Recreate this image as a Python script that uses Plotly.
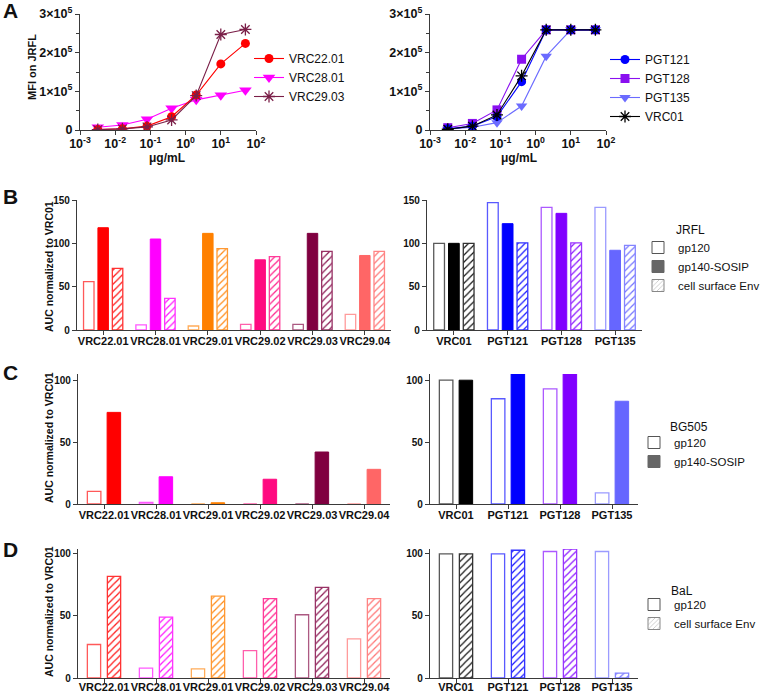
import plotly.graph_objects as go

W, H = 760, 693

# ---------------- data ----------------
conc = [50, 10, 2, 0.4, 0.08, 0.016, 0.0032]
mfi_vrc22_01 = [224000, 171000, 90500, 34500, 10000, 3000, 1000]
mfi_vrc28_01 = [103000, 90000, 78000, 56000, 28000, 13000, 7000]
mfi_vrc29_03 = [260000, 247000, 89000, 26000, 8000, 3000, 1000]
mfi_pgt121 = [259000, 259000, 259000, 125000, 34500, 10000, 3000]
mfi_pgt128 = [259000, 259000, 259000, 183000, 52000, 17000, 6000]
mfi_pgt135 = [259000, 259000, 191000, 62000, 19000, 7000, 2000]
mfi_vrc01 = [259000, 259000, 259000, 140000, 39000, 10000, 2000]

cats_new = ["VRC22.01", "VRC28.01", "VRC29.01", "VRC29.02", "VRC29.03", "VRC29.04"]
cats_ref = ["VRC01", "PGT121", "PGT128", "PGT135"]

jrfl_gp120_new = [55.8, 5.8, 4.6, 6.5, 6.5, 18]
jrfl_sosip_new = [118, 105, 111.5, 81, 111.5, 86]
jrfl_cell_new = [71, 36.5, 94, 84.6, 90.8, 90.8]
jrfl_gp120_ref = [100, 147, 141.5, 141.5]
jrfl_sosip_ref = [100, 122.7, 134.6, 92]
jrfl_cell_ref = [100, 100.5, 100.5, 97.7]

bg505_gp120_new = [10.2, 1.3, 0, 0, 0, 0]
bg505_sosip_new = [74, 22, 1, 20, 42, 28]
bg505_gp120_ref = [100, 85, 93, 9]
bg505_sosip_ref = [100, 105, 105, 83]

bal_gp120_new = [27, 8, 7.3, 22, 51, 31.5]
bal_cell_new = [82, 49, 66, 64, 73, 64]
bal_gp120_ref = [100, 100, 102, 102]
bal_cell_ref = [100, 103, 104, 4]

x_ticks_log = [1e-3, 1e-2, 1e-1, 1e0, 1e1, 1e2]
x_ticktext_log = ["10<sup>-3</sup>", "10<sup>-2</sup>", "10<sup>-1</sup>", "10<sup>0</sup>",
                  "10<sup>1</sup>", "10<sup>2</sup>"]
y_ticks_mfi = [0, 100000, 200000, 300000]
y_ticktext_mfi = ["0", "1×10<sup>5</sup>", "2×10<sup>5</sup>", "3×10<sup>5</sup>"]

# ---------------- styles ----------------
col_new = ["#FF0000", "#FF00FF", "#FF8000", "#FF0A80", "#800040", "#FF6666"]
col_ref = ["#000000", "#0000FF", "#8000FF", "#6666FF"]

FONT = "Arial, Liberation Sans, sans-serif"
AX = "#3a3a3a"


def lighten(h, t):
    h = h.lstrip("#")
    r, g, b = int(h[0:2], 16), int(h[2:4], 16), int(h[4:6], 16)
    r = int(r + (255 - r) * t)
    g = int(g + (255 - g) * t)
    b = int(b + (255 - b) * t)
    return "#%02x%02x%02x" % (r, g, b)


def px(p):
    return p / W


def py(p):
    return 1 - p / H


fig = go.Figure()

# ---------------- panel A ----------------
lineA = [
    ("VRC28.01", mfi_vrc28_01, "#FF00FF", "triangle-down", 11, "x", "y", "legend"),
    ("VRC22.01", mfi_vrc22_01, "#FF0000", "circle", 9, "x", "y", "legend"),
    ("VRC29.03", mfi_vrc29_03, "#7A1F48", "asterisk-open", 10, "x", "y", "legend"),
    ("PGT135", mfi_pgt135, "#6B6BFF", "triangle-down", 10, "x2", "y2", "legend2"),
    ("PGT128", mfi_pgt128, "#8A10F0", "square", 9, "x2", "y2", "legend2"),
    ("PGT121", mfi_pgt121, "#0000FF", "circle", 9, "x2", "y2", "legend2"),
    ("VRC01", mfi_vrc01, "#000000", "asterisk-open", 10, "x2", "y2", "legend2"),
]
rank = {"VRC22.01": 1, "VRC28.01": 2, "VRC29.03": 3, "PGT121": 1, "PGT128": 2, "PGT135": 3, "VRC01": 4}
for name, vals, c, sym, sz, xa, ya, lg in lineA:
    fig.add_trace(go.Scatter(
        x=conc, y=vals, name=name, mode="lines+markers",
        line=dict(color=c, width=1.1),
        marker=dict(symbol=sym, size=sz, color=c, line=dict(color=c, width=1.3 if "asterisk" in sym else 0)),
        xaxis=xa, yaxis=ya, legend=lg, legendrank=rank[name],
    ))


# ---------------- bar panels ----------------
def add_bars(cats, vals, colors, kind, width, offset, xa, ya):
    if kind == "open":
        marker = dict(color="white", line=dict(color=[lighten(c, 0.35) for c in colors], width=1.3))
    elif kind == "solid":
        marker = dict(color=colors, line=dict(color=colors, width=1))
    else:
        marker = dict(color="white", line=dict(color=[lighten(c, 0.2) for c in colors], width=1.3),
                      pattern=dict(shape="/", fgcolor=[lighten(c, 0.1) for c in colors], bgcolor="white",
                                   size=5, solidity=0.25, fillmode="replace"))
    fig.add_trace(go.Bar(x=cats, y=vals, width=width, offset=offset, marker=marker,
                         xaxis=xa, yaxis=ya, showlegend=False, hoverinfo="x+y"))


# B (3 bars)
for cats, cols, xa, ya, g, s, c in [
    (cats_new, col_new, "x3", "y3", jrfl_gp120_new, jrfl_sosip_new, jrfl_cell_new),
    (cats_ref, col_ref, "x4", "y4", jrfl_gp120_ref, jrfl_sosip_ref, jrfl_cell_ref),
]:
    add_bars(cats, g, cols, "open", 0.2, -0.375, xa, ya)
    add_bars(cats, s, cols, "solid", 0.2, -0.1, xa, ya)
    add_bars(cats, c, cols, "hatch", 0.2, 0.175, xa, ya)

# C (2 bars)
for cats, cols, xa, ya, g, s in [
    (cats_new, col_new, "x5", "y5", bg505_gp120_new, bg505_sosip_new),
    (cats_ref, col_ref, "x6", "y6", bg505_gp120_ref, bg505_sosip_ref),
]:
    add_bars(cats, g, cols, "open", 0.26, -0.32, xa, ya)
    add_bars(cats, s, cols, "solid", 0.26, 0.06, xa, ya)

# D (2 bars)
for cats, cols, xa, ya, g, c in [
    (cats_new, col_new, "x7", "y7", bal_gp120_new, bal_cell_new),
    (cats_ref, col_ref, "x8", "y8", bal_gp120_ref, bal_cell_ref),
]:
    add_bars(cats, g, cols, "open", 0.255, -0.32, xa, ya)
    add_bars(cats, c, cols, "hatch", 0.255, 0.065, xa, ya)

# legend dummy entries for bar panels
GRAY = "#666666"
for lg, items in [("legend3", ["open", "solid", "hatch"]), ("legend4", ["open", "solid"]),
                  ("legend5", ["open", "hatch"])]:
    for k in items:
        nm = {"open": "gp120", "solid": "gp140-SOSIP", "hatch": "cell surface Env"}[k]
        if k == "open":
            mk = dict(color="white", line=dict(color="#555555", width=1))
        elif k == "solid":
            mk = dict(color=GRAY, line=dict(color=GRAY, width=1))
        else:
            mk = dict(color="white", line=dict(color="#888888", width=1),
                      pattern=dict(shape="/", fgcolor="#888888", bgcolor="white", size=4, solidity=0.25))
        fig.add_trace(go.Bar(x=[None], y=[None], name=nm, marker=mk, legend=lg,
                             xaxis="x3", yaxis="y3", showlegend=True))

# ---------------- axes ----------------
tick_b = dict(family=FONT, size=11, color="#111", weight="bold")
tick_y = dict(family=FONT, size=10, color="#111", weight="bold")
base = dict(showline=True, linecolor=AX, linewidth=1.2, ticks="outside", ticklen=4, tickwidth=1.2,
            tickcolor=AX, showgrid=False, zeroline=False, automargin=False)

lay = dict(width=W, height=H, margin=dict(l=0, r=0, t=0, b=0, autoexpand=False), plot_bgcolor="white",
           paper_bgcolor="white", barmode="overlay", font=dict(family=FONT, color="#111"))

# A axes
for i, (x0, x1) in zip(["", "2"], [(80, 256), (430, 606)]):
    lay["xaxis" + i] = dict(base, type="log", range=[-3, 2], domain=[px(x0), px(x1)],
                            anchor="y" + i, tickvals=x_ticks_log, ticktext=x_ticktext_log,
                            ticklabelstandoff=-2,
                            tickfont=dict(family=FONT, size=12.5, color="#111", weight="bold"))
    lay["yaxis" + i] = dict(base, range=[0, 300000], domain=[py(130), py(14)], anchor="x" + i,
                            tickvals=y_ticks_mfi, ticktext=y_ticktext_mfi,
                            tickfont=dict(family=FONT, size=12.5, color="#111", weight="bold"),
                            minor=dict(dtick=50000, ticks="outside", ticklen=3, tickcolor=AX, tickwidth=1))

bar_axes = [
    ("3", cats_new, (77, 391), (330, 200), 150, [0, 50, 100, 150], -3),
    ("4", cats_ref, (427, 642), (330, 200), 150, [0, 50, 100, 150], -3),
    ("5", cats_new, (78, 390), (504, 374), 105, [0, 50, 100], -3),
    ("6", cats_ref, (430, 638), (504, 374), 105, [0, 50, 100], -3),
    ("7", cats_new, (78, 390), (678, 549), 104, [0, 50, 100], -5),
    ("8", cats_ref, (430, 638), (678, 549), 104, [0, 50, 100], -5),
]
for i, cats, (x0, x1), (yb, yt), top, tv, so in bar_axes:
    lay["xaxis" + i] = dict(base, type="category", categoryorder="array", categoryarray=cats,
                            range=[-0.5, len(cats) - 0.5], domain=[px(x0), px(x1)], anchor="y" + i,
                            tickfont=tick_b, tickangle=0, ticklabelstandoff=so)
    lay["yaxis" + i] = dict(base, range=[0, top], domain=[py(yb), py(yt)], anchor="x" + i,
                            tickvals=tv, tickfont=tick_y)

common_leg = dict(xanchor="left", yanchor="top", bgcolor="rgba(0,0,0,0)",
                  xref="container", yref="container",
                  tracegroupgap=0, itemclick=False, itemdoubleclick=False, traceorder="normal")
leg_font = dict(family=FONT, size=12, color="#111")
leg_font_b = dict(family=FONT, size=11.5, color="#111")
lay["legend"] = dict(common_leg, font=leg_font, x=px(249), y=py(44))
lay["legend2"] = dict(common_leg, font=leg_font, x=px(605), y=py(45))
lay["legend3"] = dict(common_leg, font=leg_font_b, x=px(638), y=py(233))
lay["legend4"] = dict(common_leg, font=leg_font_b, x=px(634), y=py(428))
lay["legend5"] = dict(common_leg, font=leg_font_b, x=px(634), y=py(590))

ann = []


def text(x, y, s, size=11, bold=True, angle=0, xanchor="center"):
    ann.append(dict(x=px(x), y=py(y), xref="paper", yref="paper", text=s, showarrow=False,
                    textangle=angle, xanchor=xanchor, yanchor="middle",
                    font=dict(family=FONT, size=size, color="#111", weight="bold" if bold else "normal")))


for letter, y in [("A", 11), ("B", 197), ("C", 372), ("D", 549)]:
    text(1, y, letter, size=21, xanchor="left")
text(32, 67, "MFI on JRFL", size=11, angle=-90)
text(167, 158, "μg/mL", size=12)
text(519, 158, "μg/mL", size=12)
text(49, 267, "AUC normalized to VRC01", size=10.5, angle=-90)
text(49, 438, "AUC normalized to VRC01", size=10.5, angle=-90)
text(49, 612, "AUC normalized to VRC01", size=10.5, angle=-90)
text(674, 230, "JRFL", size=12, bold=False, xanchor="left")
text(668, 427, "BG505", size=12, bold=False, xanchor="left")
text(669, 591, "BaL", size=12, bold=False, xanchor="left")
lay["annotations"] = ann

fig.update_layout(**lay)
fig.write_html("out.html", config={"displayModeBar": False},
               post_script="document.body.style.margin='0';document.body.style.overflow='hidden';")
